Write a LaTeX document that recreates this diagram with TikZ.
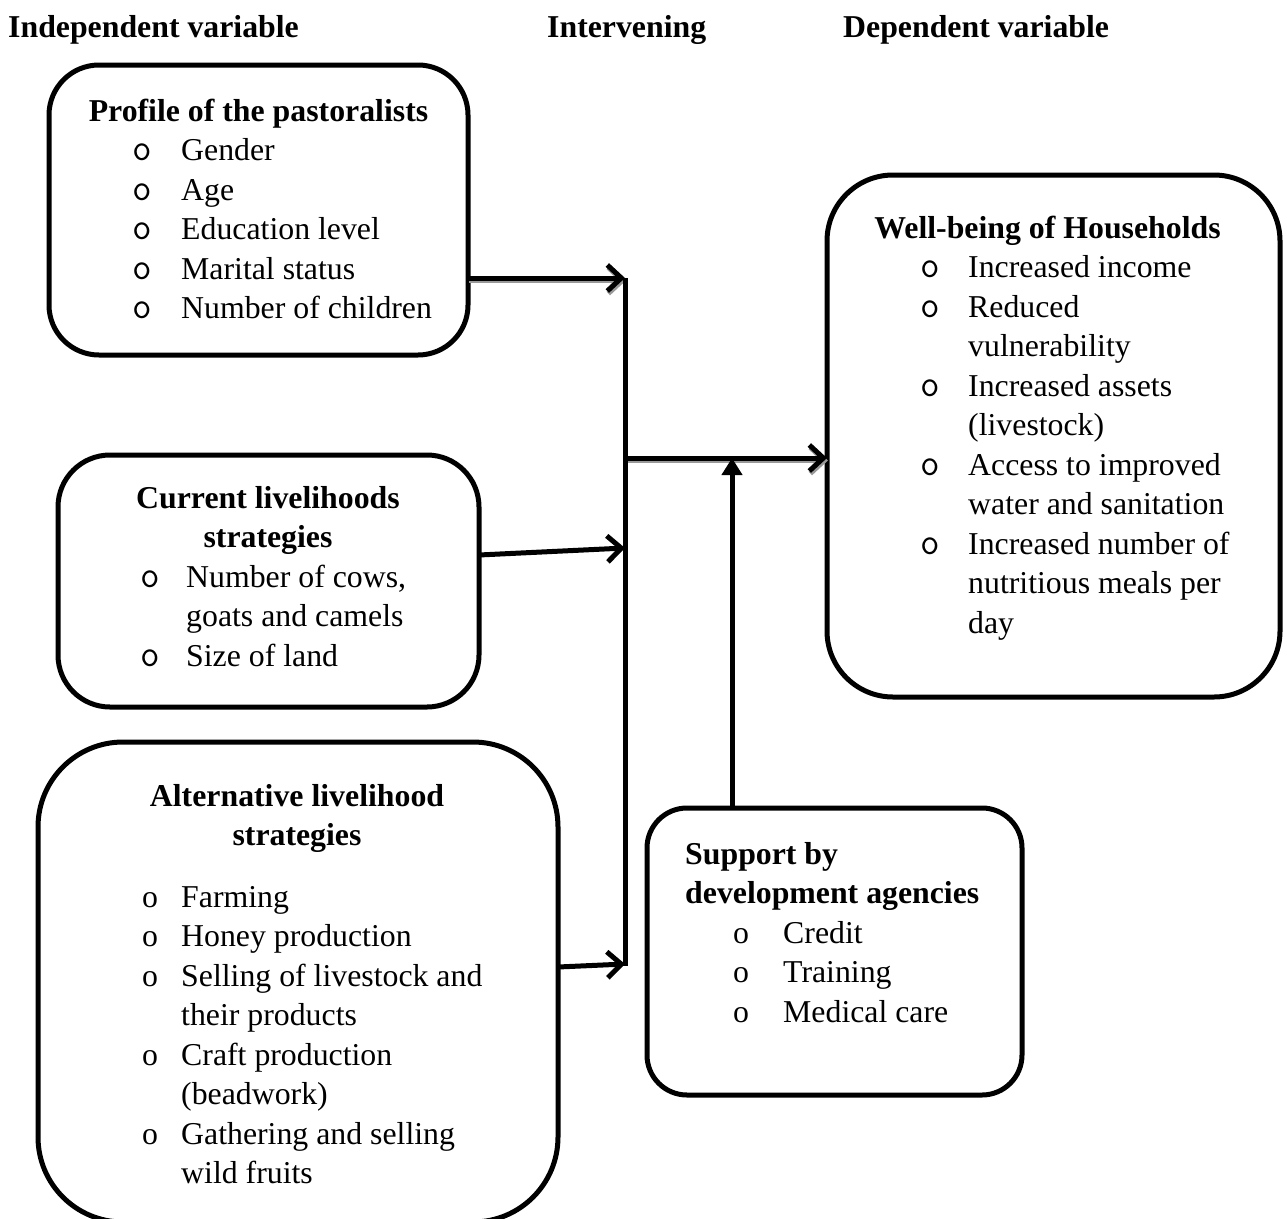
\documentclass[tikz,border=0pt]{standalone}
\usepackage{fontspec}
\setmainfont{Liberation Serif}
\usetikzlibrary{arrows.meta}
\tikzset{
  box/.style={draw, line width=5pt, rounded corners=#1, inner sep=0pt, outer sep=0pt},
  txt/.style={anchor=base west, inner sep=0pt, font=\fontsize{31.8}{39.5}\selectfont},
  ttl/.style={anchor=base, inner sep=0pt, font=\fontsize{31.8}{39.5}\selectfont\bfseries},
  bul/.style={anchor=base, inner sep=0pt, font=\fontsize{38}{39.5}\selectfont\ttfamily},
  sbul/.style={anchor=base, inner sep=0pt, font=\fontsize{31.8}{39.5}\selectfont},
  conn/.style={line width=5pt, -{Straight Barb[length=14pt,width=26pt,line width=5pt]}},
  plainline/.style={line width=5pt},
  shade/.style={draw=black!40, transform canvas={xshift=1pt,yshift=-2.5pt}},
}
\begin{document}
\begin{tikzpicture}[x=1pt,y=-1pt]
\useasboundingbox (0,0) rectangle (1287,1218);

% headers
\node[ttl, anchor=base west] (h1) at (8,37) {Independent variable};
\node[ttl, anchor=base west] (h2) at (547,37) {Intervening};
\node[ttl, anchor=base west] (h3) at (843,37) {Dependent variable};

% boxes
\node[box=50pt, minimum width=419pt, minimum height=290pt] (prof) at (258.5,210) {};
\node[box=66pt, minimum width=453pt, minimum height=522pt] (wb) at (1053.5,436) {};
\node[box=52pt, minimum width=421pt, minimum height=252pt] (cur) at (268.5,581) {};
\node[box=85pt, minimum width=520pt, minimum height=480pt] (alt) at (298,982) {};
\node[box=40pt, minimum width=375pt, minimum height=287pt] (sup) at (834.5,951.5) {};

% profile
\node[ttl] (pt) at (258.5,121.5) {Profile of the pastoralists};
\foreach \t [count=\i] in {Gender, Age, Education level, Marital status, Number of children} {
  \node[txt] (p\i) at (181,121.5+39.4*\i) {\t};
  \node[bul] (pb\i) at (142,121.5+39.4*\i) {o};
}

% well-being
\node[ttl] (wt) at (1047.5,238) {Well-being of Households};
\foreach \t/\b [count=\i] in {Increased income/1, Reduced/1, vulnerability/0, Increased assets/1, (livestock)/0, Access to improved/1, water and sanitation/0, Increased number of/1, nutritious meals per/0, day/0} {
  \node[txt] (w\i) at (968,238+39.5*\i) {\t};
  \ifnum\b=1 \node[bul] (wb\i) at (930,238+39.5*\i) {o}; \fi
}

% current
\node[ttl] (ct1) at (268,508) {Current livelihoods};
\node[ttl] (ct2) at (268,547.5) {strategies};
\foreach \t/\b [count=\i] in {Number of cows{,}/1, goats and camels/0, Size of land/1} {
  \node[txt] (c\i) at (186,547.5+39.5*\i) {\t};
  \ifnum\b=1 \node[bul] (cb\i) at (150,547.5+39.5*\i) {o}; \fi
}

% alternative
\node[ttl] (at1) at (297,806) {Alternative livelihood};
\node[ttl] (at2) at (297,845.5) {strategies};
\foreach \t/\b [count=\i] in {Farming/1, Honey production/1, Selling of livestock and/1, their products/0, Craft production/1, (beadwork)/0, Gathering and selling/1, wild fruits/0} {
  \node[txt] (a\i) at (181,867.5+39.5*\i) {\t};
  \ifnum\b=1 \node[sbul] (ab\i) at (150,867.5+39.5*\i) {o}; \fi
}

% support
\node[ttl, anchor=base west] (st1) at (685,864) {Support by};
\node[ttl, anchor=base west] (st2) at (685,903.5) {development agencies};
\foreach \t [count=\i] in {Credit, Training, Medical care} {
  \node[txt] (s\i) at (783,903.5+39.5*\i) {\t};
  \node[sbul] (sb\i) at (741,903.5+39.5*\i) {o};
}

% connectors
\coordinate (v1) at (625,278);
\coordinate (v2) at (625,966);
\coordinate (c1) at (625,548);
\coordinate (a1) at (625,964);
\coordinate (m) at (625,458);
\coordinate (stp) at (732,458);

\draw[conn, shade] (prof.east |- v1) -- (v1);
\draw[conn, shade] (m) -- ([yshift=-22pt]wb.west);
\draw[plainline] (v1) -- (v2);
\draw[conn] (prof.east |- v1) -- (v1);
\draw[conn] ([yshift=26pt]cur.east) -- (c1);
\draw[conn] ([yshift=15pt]alt.east) -- (a1);
\draw[conn] (m) -- ([yshift=-22pt]wb.west);
\draw[line width=5pt, -{Triangle[length=17pt,width=20pt]}] ([xshift=-102.5pt]sup.north) -- (stp);
\end{tikzpicture}
\end{document}
